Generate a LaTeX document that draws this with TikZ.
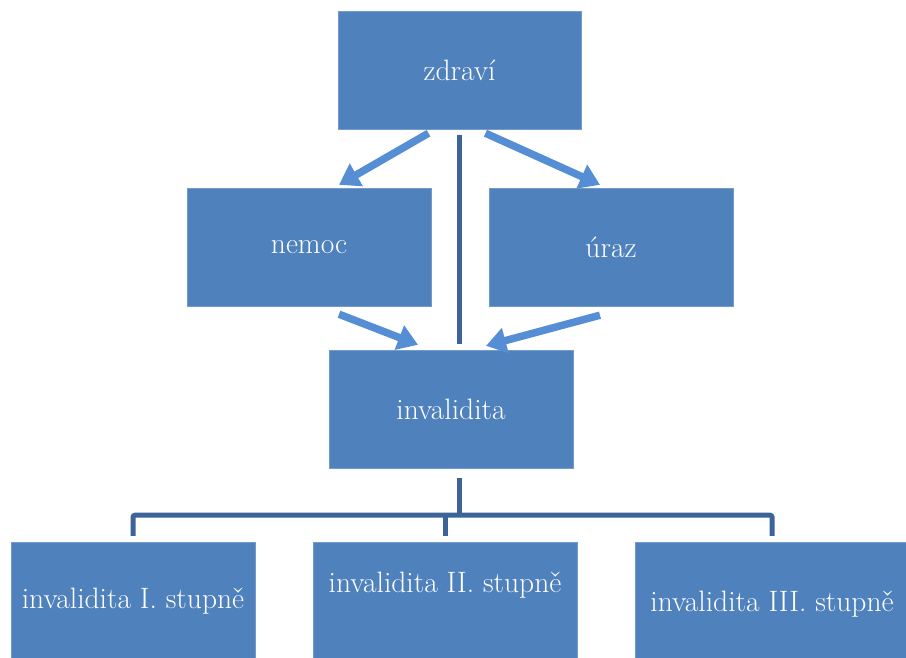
\documentclass[tikz,border=0pt]{standalone}
\usepackage{fontspec}
\usetikzlibrary{arrows.meta, positioning}
\definecolor{boxblue}{HTML}{4F81BD}
\definecolor{arrowblue}{HTML}{558ED5}
\definecolor{lineblue}{HTML}{3C6498}

\tikzset{
  box/.style={draw=boxblue!80!white, fill=boxblue, text=white, inner sep=0pt,
    minimum width=244pt, minimum height=118pt, align=center,
    font=\fontsize{29.5}{34}\selectfont},
  flow/.style={arrowblue, line width=7.5pt, -{Triangle[length=20pt,width=25pt]}},
  tree/.style={lineblue, line width=5pt},
}

\begin{document}
\begin{tikzpicture}[x=1pt, y=-1pt]
\useasboundingbox (0,0) rectangle (906,657);

%Top
\node (zdravi) at (459.5,70) [box, minimum width=243pt] {zdraví};

%Middle level
\node (nemoc) at (309,247) [box] {nemoc};
\node (uraz) at (611,247) [box] {úraz};

\node (inval) at (451,409) [box] {invalidita};

%Bottom level
\node (st1) at (133,601) [box] {invalidita I. stupně};
\node (st2) at (445,601) [box, minimum width=264pt, text depth=38pt] {invalidita II. stupně};
\node (st3) at (772,601) [box, minimum width=274pt, text depth=0pt] {invalidita III. stupně};

%Arrows
\draw[flow] ([xshift=-31pt,yshift=-4pt]zdravi.south) -- ([xshift=30pt,yshift=3pt]nemoc.north);
\draw[flow] ([xshift=26pt,yshift=-4pt]zdravi.south) -- ([xshift=-11pt,yshift=3pt]uraz.north);
\draw[flow] ([xshift=30pt,yshift=-8pt]nemoc.south) -- ([xshift=-33pt,yshift=5pt]inval.north);
\draw[flow] ([xshift=-11pt,yshift=-9pt]uraz.south) -- ([xshift=35pt,yshift=4pt]inval.north);

\draw[tree] ([yshift=-6pt]zdravi.south) -- ([yshift=6pt]zdravi.south |- inval.north);

%Tree
\coordinate (fork) at ([yshift=-47pt]zdravi.south |- inval.south);
\draw[tree] ([yshift=-10pt]zdravi.south |- inval.south) -- (fork);
\draw[tree, rounded corners=2pt] ([yshift=6pt]st1.north) |- (fork -| st3.north) -- ([yshift=6pt]st3.north);
\draw[tree] ([yshift=6pt]st2.north) -- (st2.north |- fork);

\end{tikzpicture}
\end{document}
